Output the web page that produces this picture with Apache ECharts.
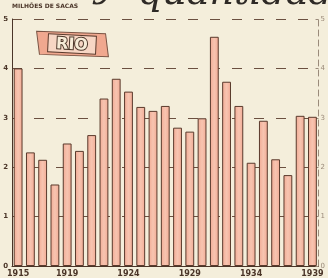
<!DOCTYPE html>
<html style="height: 100%">
<head>
<meta charset="utf-8">
<script src="https://cdn.jsdelivr.net/npm/echarts@6/dist/echarts.min.js"></script>
</head>
<body style="height: 100%; margin: 0; background: #f4eedb">
<div id="container" style="width: 328px; height: 278px"></div>
<script>
var years = ['1915','1916','1917','1918','1919','1920','1921','1922','1923','1924','1925','1926','1927',
             '1928','1929','1930','1931','1932','1933','1934','1935','1936','1937','1938','1939'];
var sacas = [4.0, 2.3, 2.15, 1.65, 2.48, 2.33, 2.65, 3.39, 3.79, 3.53, 3.22, 3.14, 3.24,
             2.8, 2.72, 2.99, 4.64, 3.73, 3.24, 2.09, 2.94, 2.16, 1.84, 3.04, 3.02];
var shownYears = ['1915','1919','1924','1929','1934','1939'];

var dom = document.getElementById('container');
var myChart = echarts.init(dom);
var ink = '#4a3528';

var option = {
  backgroundColor: '#f4eedb',
  animation: false,
  grid: { left: 12, right: 9, top: 19, bottom: 12 },
  xAxis: {
    type: 'category',
    data: years,
    axisLine: { lineStyle: { color: ink, width: 1 } },
    axisTick: {
      length: 3,
      lineStyle: { color: ink },
      interval: function (i, v) { return shownYears.indexOf(v) >= 0; }
    },
    axisLabel: {
      interval: function (i, v) { return shownYears.indexOf(v) >= 0; },
      color: ink, fontSize: 8, fontWeight: 'bold', margin: 4,
      fontFamily: 'DejaVu Sans'
    }
  },
  yAxis: [
    {
      type: 'value', min: 0, max: 5, interval: 1,
      axisLine: { show: true, lineStyle: { color: ink } },
      axisTick: { show: false },
      axisLabel: { color: ink, fontSize: 7, fontWeight: 'bold', margin: 4, fontFamily: 'DejaVu Sans' },
      splitLine: { lineStyle: { color: '#6b5040', type: [10, 12], width: 1 } }
    },
    {
      type: 'value', min: 0, max: 5, interval: 1, position: 'right',
      axisLine: { show: true, lineStyle: { color: '#9a8a7a', type: [6, 4] } },
      axisTick: { show: true, length: 3, inside: true, lineStyle: { color: '#9a8a7a' } },
      axisLabel: { color: '#9a8a7a', fontSize: 7, margin: 2, fontFamily: 'DejaVu Sans' },
      splitLine: { show: false }
    }
  ],
  series: [
    {
      name: 'Rio',
      type: 'bar',
      barWidth: '72%',
      data: sacas,
      itemStyle: {
        color: {
          type: 'linear', x: 0, y: 0, x2: 1, y2: 0,
          colorStops: [
            { offset: 0, color: '#f2ab95' },
            { offset: 0.5, color: '#f7c4b0' },
            { offset: 1, color: '#f2ab95' }
          ]
        },
        borderColor: '#5a3a2c',
        borderWidth: 1
      }
    }
  ],
  graphic: [
    {
      type: 'text', left: 12, top: 3,
      style: { text: 'MILHÕES DE SACAS', fill: ink, font: 'bold 6px "DejaVu Sans"' }
    },
    {
      type: 'text', left: 94, top: -33,
      style: { text: 'y', fill: '#2e2a26', font: 'italic 38px "DejaVu Serif"' }
    },
    {
      type: 'text', left: 138, top: -25,
      style: { text: 'quantidade', fill: '#2e2a26', font: 'italic 38px "DejaVu Serif"' }
    },
    {
      type: 'group', x: 72, y: 44, rotation: -0.05,
      children: [
        { type: 'polygon', shape: { points: [[-36, -11], [33, -12], [37, 11], [-32, 12]] },
          style: { fill: '#f0a88f', stroke: '#7a5444', lineWidth: 1 } },
        { type: 'rect', shape: { x: -24, y: -9, width: 48, height: 18 },
          style: { fill: '#f7d6c4', stroke: '#5a3a2c', lineWidth: 1 } },
        { type: 'text', x: 0, y: 1,
          style: { text: 'RIO', align: 'center', verticalAlign: 'middle',
                   font: 'bold 16px "DejaVu Sans"', fill: '#f7ecd8',
                   stroke: '#4a3528', lineWidth: 2 } }
      ]
    }
  ]
};

if (option && typeof option === 'object') {
  myChart.setOption(option);
}
</script>
</body>
</html>
